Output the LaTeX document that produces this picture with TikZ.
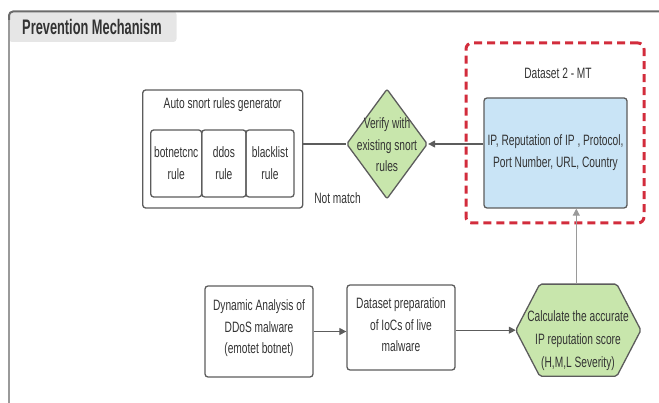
\documentclass[tikz,border=0pt]{standalone}
\usepackage{fontspec}
\setmainfont[FakeStretch=0.68]{Liberation Sans}
\newfontfamily\titlefont[FakeStretch=0.61]{Liberation Sans}
\usetikzlibrary{shapes.geometric,arrows.meta}
\definecolor{linegray}{HTML}{5C5C5C}
\definecolor{textgray}{HTML}{333333}
\definecolor{leafgreen}{HTML}{C8E6AC}
\definecolor{skyblue}{HTML}{C9E4F6}
\definecolor{dashred}{HTML}{D22C3C}
\definecolor{tabgray}{HTML}{E6E6E6}
\definecolor{frametop}{HTML}{6B6B6B}
\definecolor{frameleft}{HTML}{9A9A9A}
\tikzset{
  txt/.style={text=textgray, font=\fontsize{15}{21.5}\selectfont, align=center, inner sep=0pt},
  boxnode/.style={draw=linegray, line width=1.3pt, rounded corners=3pt, inner sep=0pt},
  arr/.style={draw=linegray, line width=1.2pt, -{Triangle[length=7pt,width=7pt]}},
  plainline/.style={draw=linegray, line width=1.2pt},
}
\begin{document}
\begin{tikzpicture}[x=1pt,y=-1pt]
\useasboundingbox (0,0) rectangle (659,403);
% frame and title tab
\fill[tabgray, rounded corners=3pt] (9,11.5) rectangle (176.5,42);
\draw[frameleft, line width=2pt] (9,403) -- (9,16);
\draw[frametop, line width=2pt, rounded corners=4pt] (9,20) -- (9,11.5) -- (661,11.5);
\node[text=textgray, font=\titlefont\bfseries\fontsize{21}{24}\selectfont, inner sep=0pt] (title) at (92,27) {Prevention Mechanism};

% auto snort rules generator
\node[boxnode, fill=white, minimum width=160pt, minimum height=118pt] (auto) at (222.7,149) {};
\node[txt] (autotitle) at (222.7,105) {Auto snort rules generator};
\node[boxnode, minimum width=51pt, minimum height=67pt] (botnet) at (176.2,163.5) {};
\node[boxnode, minimum width=44.3pt, minimum height=67pt] (ddos) at (223.9,163.5) {};
\node[boxnode, minimum width=48pt, minimum height=67pt] (blacklist) at (270,163.5) {};
\node[txt] (botnettext) at (176.2,163) {botnetcnc\\rule};
\node[txt] (ddostext) at (223.9,163) {ddos\\rule};
\node[txt] (blacklisttext) at (270,163) {blacklist\\rule};

% diamond
\node[diamond, draw=linegray, fill=leafgreen, line width=1.3pt, rounded corners=2pt, inner sep=0pt, minimum width=81pt, minimum height=110pt] (verify) at (387,144) {};
\node[txt] (verifytext) at (387,145) {Verify with\\existing snort\\rules};
\node[txt] (notmatch) at (337.5,198) {Not match};

% dataset 2 - MT
\node[draw=dashred, line width=3pt, dash pattern=on 8pt off 5pt, rounded corners=6pt, minimum width=178pt, minimum height=180pt, inner sep=0pt] (dsframe) at (555,133) {};
\node[txt] (dstitle) at (558,73) {Dataset 2 - MT};
\node[boxnode, fill=skyblue, minimum width=143pt, minimum height=110pt] (ipbox) at (555.5,153) {};
\node[txt] (iptext) at (555.5,152.5) {IP, Reputation of IP , Protocol,\\Port Number, URL, Country};

% bottom row
\node[boxnode, minimum width=108pt, minimum height=91pt] (dyn) at (259,331.5) {};
\node[txt] (dyntext) at (259,328.5) {Dynamic Analysis of\\DDoS malware\\(emotet botnet)};
\node[boxnode, minimum width=108pt, minimum height=85pt] (prep) at (401,327.5) {};
\node[txt] (preptext) at (401,325) {Dataset preparation\\of IoCs of live\\malware};

% hexagon
\node[minimum width=124.7pt, minimum height=91.7pt, inner sep=0pt] (hex) at (578.3,330.2) {};
\filldraw[fill=leafgreen, draw=linegray, line width=1.3pt, rounded corners=2pt]
  (hex.west) -- ([xshift=24pt]hex.north west) -- ([xshift=-24pt]hex.north east) -- (hex.east)
  -- ([xshift=-24pt]hex.south east) -- ([xshift=24pt]hex.south west) -- cycle;
\node[txt, font=\fontsize{15}{23}\selectfont] (hextext) at (578,341) {Calculate the accurate\\IP reputation score\\(H,M,L Severity)};

% connectors
\draw[plainline] (auto.east |- verify.west) -- (verify.west);
\draw[arr] (ipbox.west |- verify.east) -- (verify.east);
\draw[arr, draw=frameleft] ([xshift=-2pt]hex.north) -- ([xshift=-2pt]hex.north |- ipbox.south);
\draw[arr] (dyn.east) -- (dyn.east -| prep.west);
\draw[arr] (prep.east |- hex.west) -- (hex.west);
\end{tikzpicture}
\end{document}
